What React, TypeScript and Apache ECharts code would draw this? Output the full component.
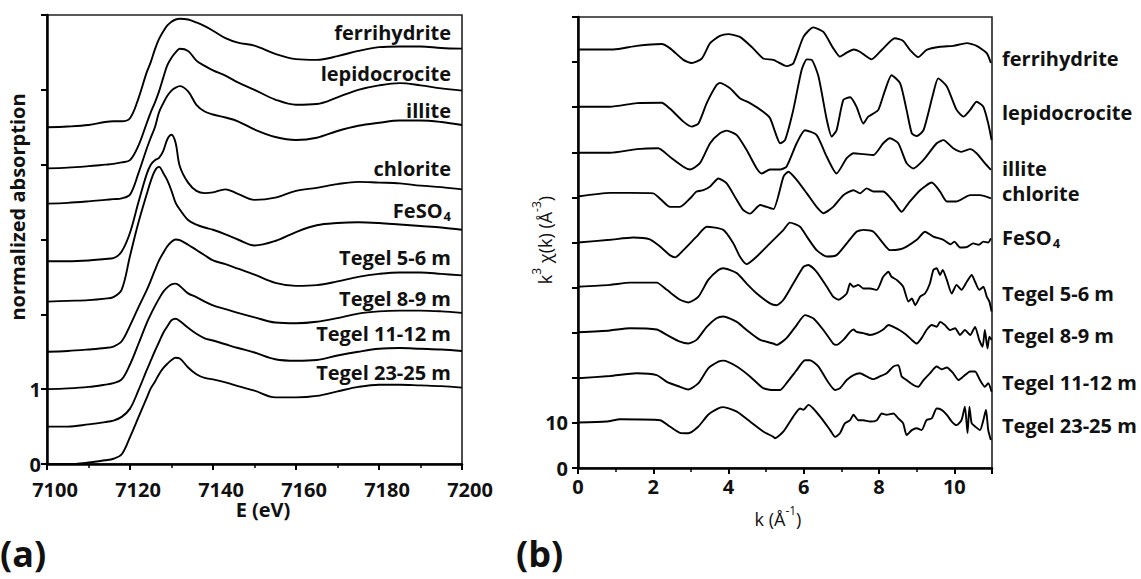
import React, { useEffect, useRef } from "react";
import * as echarts from "echarts";

// ---------- Panel (a): XANES, normalized absorption vs E (eV) ----------
const energyGrid = [7100, 7105, 7110, 7114, 7116, 7118, 7120, 7122, 7124, 7125, 7126, 7127, 7128, 7129, 7130, 7131, 7132, 7134, 7136, 7138, 7140, 7143, 7146, 7150, 7155, 7160, 7165, 7170, 7175, 7180, 7185, 7190, 7195, 7200];

const ferrihydriteA = [4.50, 4.51, 4.53, 4.57, 4.58, 4.58, 4.62, 4.88, 5.23, 5.37, 5.54, 5.68, 5.78, 5.86, 5.91, 5.94, 5.95, 5.94, 5.90, 5.85, 5.79, 5.69, 5.63, 5.59, 5.48, 5.41, 5.40, 5.45, 5.52, 5.57, 5.58, 5.58, 5.56, 5.55];
const lepidocrociteA = [3.95, 3.96, 3.98, 4.00, 4.01, 4.03, 4.06, 4.25, 4.55, 4.70, 4.83, 4.98, 5.16, 5.33, 5.43, 5.50, 5.55, 5.52, 5.39, 5.32, 5.26, 5.19, 5.10, 5.00, 4.87, 4.80, 4.81, 4.90, 5.00, 5.06, 5.09, 5.06, 5.02, 4.99];
const illiteA = [3.48, 3.49, 3.51, 3.53, 3.54, 3.55, 3.60, 3.88, 4.21, 4.36, 4.50, 4.70, 4.82, 4.92, 4.99, 5.03, 5.05, 4.98, 4.80, 4.71, 4.67, 4.63, 4.58, 4.47, 4.37, 4.33, 4.36, 4.45, 4.52, 4.56, 4.59, 4.59, 4.57, 4.53];
const chloriteA = [2.71, 2.71, 2.72, 2.74, 2.75, 2.84, 3.09, 3.49, 3.87, 4.00, 4.06, 4.09, 4.18, 4.34, 4.40, 4.29, 3.98, 3.76, 3.65, 3.62, 3.63, 3.67, 3.61, 3.53, 3.56, 3.65, 3.69, 3.74, 3.77, 3.76, 3.75, 3.72, 3.70, 3.67];
const feso4A = [2.17, 2.18, 2.19, 2.21, 2.23, 2.33, 2.78, 3.22, 3.60, 3.78, 3.92, 3.97, 3.89, 3.79, 3.65, 3.49, 3.40, 3.26, 3.20, 3.16, 3.13, 3.07, 3.00, 2.92, 2.98, 3.10, 3.19, 3.22, 3.23, 3.22, 3.20, 3.18, 3.16, 3.13];
const tegel56A = [1.50, 1.51, 1.53, 1.55, 1.57, 1.64, 1.85, 2.09, 2.32, 2.45, 2.59, 2.72, 2.82, 2.91, 2.97, 3.00, 2.99, 2.93, 2.86, 2.79, 2.72, 2.67, 2.61, 2.53, 2.42, 2.38, 2.39, 2.44, 2.50, 2.54, 2.56, 2.56, 2.54, 2.52];
const tegel89A = [1.00, 1.01, 1.03, 1.06, 1.08, 1.13, 1.33, 1.60, 1.88, 2.00, 2.11, 2.21, 2.30, 2.36, 2.40, 2.41, 2.38, 2.28, 2.23, 2.17, 2.12, 2.07, 2.02, 1.96, 1.89, 1.88, 1.90, 1.95, 2.01, 2.04, 2.05, 2.05, 2.04, 2.02];
const tegel1112A = [0.50, 0.50, 0.53, 0.56, 0.58, 0.63, 0.74, 0.98, 1.25, 1.38, 1.51, 1.63, 1.75, 1.84, 1.92, 1.94, 1.91, 1.82, 1.74, 1.68, 1.65, 1.60, 1.55, 1.49, 1.40, 1.38, 1.39, 1.45, 1.50, 1.54, 1.55, 1.54, 1.53, 1.51];
const tegel2325A = [0.00, 0.00, 0.02, 0.05, 0.07, 0.13, 0.36, 0.62, 0.88, 1.01, 1.10, 1.20, 1.28, 1.34, 1.39, 1.42, 1.41, 1.29, 1.20, 1.15, 1.13, 1.09, 1.04, 0.98, 0.89, 0.89, 0.91, 0.97, 1.03, 1.06, 1.06, 1.05, 1.04, 1.02];

const yLabelsA = [0, 1];

// ---------- Panel (b): EXAFS, k^3 chi(k) vs k ----------
const ferrihydriteB = [[0, 92.8], [0.94, 92.8], [1.56, 93.6], [2.22, 94.0], [2.44, 93.1], [2.80, 90.5], [3.02, 89.8], [3.29, 90.8], [3.51, 94.2], [3.77, 95.8], [3.99, 96.2], [4.30, 95.6], [4.61, 93.4], [4.92, 90.8], [5.19, 90.5], [5.55, 89.1], [5.72, 89.7], [5.99, 95.6], [6.25, 97.7], [6.52, 96.7], [6.78, 93.1], [6.96, 91.2], [7.14, 92.1], [7.32, 92.8], [7.49, 92.3], [7.80, 90.6], [8.07, 92.7], [8.42, 95.3], [8.64, 94.7], [8.82, 92.7], [9.04, 91.1], [9.26, 92.7], [9.62, 93.4], [9.97, 93.6], [10.33, 94.2], [10.59, 93.6], [10.86, 92.0], [10.97, 89.8]];
const lepidocrociteB = [[0, 80.1], [0.85, 80.1], [1.56, 80.9], [2.22, 81.0], [2.44, 79.7], [2.80, 76.8], [3.02, 75.7], [3.20, 76.4], [3.42, 80.9], [3.68, 84.9], [3.77, 85.4], [4.04, 84.2], [4.30, 82.0], [4.57, 80.9], [4.92, 79.0], [5.10, 77.6], [5.28, 73.5], [5.37, 72.0], [5.50, 72.7], [5.72, 79.4], [5.94, 88.2], [6.08, 90.6], [6.21, 90.5], [6.39, 86.8], [6.61, 77.2], [6.74, 73.5], [6.87, 74.9], [7.05, 81.6], [7.23, 82.2], [7.40, 80.1], [7.58, 76.4], [7.71, 77.9], [7.85, 78.6], [7.98, 79.4], [8.16, 83.8], [8.33, 87.1], [8.56, 85.3], [8.73, 79.4], [8.87, 74.2], [9.00, 73.6], [9.18, 74.9], [9.44, 83.1], [9.57, 86.4], [9.80, 84.6], [10.06, 79.4], [10.24, 77.9], [10.42, 79.4], [10.59, 81.2], [10.77, 80.1], [10.90, 76.4], [10.99, 72.7]];
const illiteB = [[0, 69.9], [0.85, 69.9], [1.56, 70.7], [2.13, 70.9], [2.44, 69.0], [2.80, 66.8], [2.98, 66.2], [3.24, 67.6], [3.51, 72.0], [3.77, 74.2], [3.95, 74.8], [4.22, 73.8], [4.48, 70.5], [4.75, 66.4], [4.88, 65.3], [5.10, 66.2], [5.37, 66.2], [5.54, 66.8], [5.81, 72.0], [6.03, 74.9], [6.34, 73.8], [6.61, 69.0], [6.87, 65.3], [7.14, 68.7], [7.32, 69.8], [7.58, 69.6], [7.85, 69.4], [8.11, 72.0], [8.29, 73.1], [8.51, 72.0], [8.73, 67.6], [8.91, 66.4], [9.18, 68.3], [9.53, 72.0], [9.71, 72.7], [9.97, 70.9], [10.19, 70.1], [10.42, 70.7], [10.59, 69.8], [10.81, 67.6], [10.97, 66.1]];
const chloriteB = [[0, 60.2], [0.85, 61.0], [1.38, 61.0], [2.00, 60.9], [2.22, 59.4], [2.44, 57.9], [2.71, 57.9], [2.98, 59.8], [3.15, 61.3], [3.33, 61.6], [3.51, 62.4], [3.73, 64.2], [3.95, 63.1], [4.22, 59.4], [4.39, 57.2], [4.57, 56.4], [4.84, 58.3], [5.01, 57.9], [5.19, 57.4], [5.46, 64.6], [5.59, 65.7], [5.81, 63.9], [6.08, 60.9], [6.34, 57.9], [6.52, 56.5], [6.78, 57.9], [7.05, 60.5], [7.32, 61.6], [7.49, 60.9], [7.67, 62.0], [7.85, 61.3], [8.11, 61.3], [8.38, 59.1], [8.60, 56.8], [8.78, 58.7], [9.09, 61.6], [9.40, 63.3], [9.62, 61.3], [9.80, 59.1], [10.06, 59.1], [10.42, 60.5], [10.68, 60.5], [10.97, 59.8]];
const feso4B = [[0, 50.0], [0.85, 50.6], [1.47, 51.1], [1.91, 50.7], [2.18, 49.1], [2.44, 47.2], [2.58, 46.7], [2.80, 48.3], [3.15, 51.3], [3.42, 53.5], [3.86, 52.8], [4.13, 49.8], [4.30, 46.9], [4.48, 45.2], [4.75, 46.9], [5.10, 49.8], [5.46, 52.8], [5.63, 54.4], [5.90, 53.5], [6.08, 51.3], [6.34, 48.3], [6.61, 46.9], [6.87, 47.2], [7.14, 49.8], [7.40, 52.4], [7.58, 52.8], [7.85, 52.4], [8.11, 49.8], [8.29, 48.3], [8.56, 48.5], [8.73, 49.1], [9.00, 50.6], [9.22, 52.4], [9.44, 51.3], [9.71, 50.6], [9.90, 49.6], [10.00, 50.2], [10.15, 48.9], [10.33, 49.0], [10.50, 49.8], [10.65, 49.5], [10.77, 50.2], [10.90, 50.0], [10.97, 50.9]];
const tegel56B = [[0, 40.2], [0.85, 40.6], [1.38, 41.1], [2.09, 41.1], [2.36, 39.5], [2.71, 37.3], [2.93, 36.7], [3.20, 38.0], [3.46, 41.7], [3.73, 43.9], [3.86, 44.3], [4.22, 43.2], [4.48, 40.9], [4.75, 38.7], [5.10, 36.5], [5.28, 36.1], [5.46, 37.3], [5.72, 40.9], [5.99, 44.6], [6.12, 45.0], [6.34, 43.5], [6.61, 40.2], [6.78, 38.0], [6.92, 37.3], [7.14, 38.7], [7.23, 40.9], [7.32, 40.2], [7.45, 40.6], [7.58, 39.8], [7.76, 39.8], [7.94, 39.5], [8.11, 42.4], [8.25, 43.5], [8.33, 42.4], [8.47, 41.7], [8.64, 40.2], [8.78, 36.9], [8.87, 37.6], [8.96, 36.1], [9.09, 38.0], [9.22, 38.7], [9.35, 40.9], [9.44, 43.9], [9.53, 44.3], [9.62, 42.8], [9.69, 43.9], [9.80, 41.7], [9.93, 38.7], [10.06, 40.6], [10.19, 39.5], [10.33, 41.3], [10.46, 42.8], [10.55, 41.3], [10.66, 39.5], [10.77, 40.2], [10.86, 38.0], [10.93, 36.9], [10.99, 34.7]];
const tegel89B = [[0, 30.1], [0.85, 30.5], [1.38, 31.0], [2.09, 30.7], [2.36, 29.5], [2.71, 28.0], [2.93, 27.6], [3.15, 28.4], [3.42, 31.3], [3.68, 33.2], [3.86, 33.6], [4.22, 32.4], [4.48, 30.6], [4.84, 28.4], [5.19, 27.6], [5.28, 27.3], [5.54, 28.8], [5.81, 31.7], [6.03, 33.9], [6.25, 33.2], [6.52, 30.6], [6.78, 27.6], [6.87, 27.3], [7.05, 28.4], [7.23, 30.2], [7.32, 30.7], [7.40, 30.2], [7.58, 29.9], [7.76, 29.5], [7.94, 29.9], [8.11, 30.7], [8.25, 31.7], [8.38, 31.3], [8.56, 30.5], [8.73, 29.5], [8.87, 28.4], [9.00, 27.6], [9.13, 28.8], [9.26, 30.6], [9.40, 31.7], [9.53, 31.3], [9.62, 32.4], [9.75, 31.7], [9.88, 30.6], [10.02, 31.0], [10.15, 29.5], [10.28, 30.6], [10.42, 29.5], [10.55, 31.3], [10.66, 28.4], [10.75, 26.9], [10.81, 30.6], [10.88, 26.5], [10.93, 29.1], [10.99, 28.4]];
const tegel1112B = [[0, 19.9], [0.85, 20.4], [1.56, 21.0], [2.09, 20.6], [2.36, 19.1], [2.71, 18.0], [2.93, 17.4], [3.20, 18.8], [3.46, 22.1], [3.73, 23.6], [3.86, 23.8], [4.22, 22.5], [4.57, 20.3], [4.92, 17.7], [5.19, 17.3], [5.37, 17.3], [5.54, 18.8], [5.81, 21.7], [6.03, 23.9], [6.16, 23.9], [6.39, 22.5], [6.61, 19.5], [6.83, 17.3], [6.96, 17.7], [7.14, 19.5], [7.32, 20.6], [7.49, 21.0], [7.67, 20.3], [7.85, 19.7], [8.02, 20.3], [8.20, 21.0], [8.38, 22.5], [8.51, 22.8], [8.60, 20.3], [8.73, 19.5], [8.91, 18.4], [9.04, 18.0], [9.18, 19.5], [9.35, 21.0], [9.53, 22.5], [9.66, 21.9], [9.80, 22.3], [9.97, 21.0], [10.11, 19.5], [10.24, 20.3], [10.42, 21.4], [10.55, 21.4], [10.68, 19.5], [10.81, 18.0], [10.90, 18.8], [10.99, 16.9]];
const tegel2325B = [[0, 10.1], [0.76, 10.3], [1.12, 10.8], [2.18, 10.6], [2.44, 9.2], [2.71, 7.8], [2.93, 7.7], [3.20, 9.2], [3.46, 11.8], [3.73, 13.2], [3.86, 13.5], [4.22, 12.5], [4.57, 10.3], [4.92, 8.1], [5.19, 6.9], [5.23, 6.6], [5.46, 8.1], [5.72, 11.4], [5.90, 13.2], [5.99, 12.9], [6.12, 14.0], [6.25, 13.2], [6.47, 11.0], [6.70, 8.4], [6.83, 6.9], [6.96, 7.7], [7.09, 9.9], [7.23, 10.6], [7.32, 11.8], [7.45, 10.6], [7.58, 10.6], [7.76, 10.3], [7.94, 10.6], [8.07, 12.1], [8.20, 11.8], [8.38, 12.1], [8.51, 11.0], [8.64, 9.9], [8.73, 7.3], [8.87, 8.4], [9.00, 8.8], [9.13, 8.4], [9.26, 10.6], [9.40, 11.0], [9.53, 13.2], [9.66, 12.9], [9.80, 11.8], [9.93, 10.3], [10.06, 9.5], [10.19, 10.6], [10.28, 13.6], [10.35, 7.7], [10.40, 13.6], [10.46, 9.9], [10.55, 9.2], [10.68, 8.4], [10.77, 10.6], [10.84, 12.9], [10.90, 8.4], [10.97, 6.2]];

const xLabelsB = [0, 2, 4, 6, 8, 10];
const yLabelsB = [0, 10];

const sampleNames = ["ferrihydrite", "lepidocrocite", "illite", "chlorite", "FeSO4", "Tegel 5-6 m", "Tegel 8-9 m", "Tegel 11-12 m", "Tegel 23-25 m"];

const seriesA = [ferrihydriteA, lepidocrociteA, illiteA, chloriteA, feso4A, tegel56A, tegel89A, tegel1112A, tegel2325A];
const seriesB = [ferrihydriteB, lepidocrociteB, illiteB, chloriteB, feso4B, tegel56B, tegel89B, tegel1112B, tegel2325B];

const FONT = "'Open Sans', 'Noto Sans', sans-serif";
const INK = "#111";

// label pixel positions (layout only)
const labelYA = [32, 73, 110, 168, 210, 257, 298, 333, 372];
const labelYB = [58, 112, 168, 193, 237, 293, 335, 382, 425];

function labelText(name: string, x: number, y: number, align: string, size: number) {
  if (name === "FeSO4") {
    return {
      type: "text",
      x,
      y,
      style: {
        text: "{m|FeSO}{s|4}",
        align,
        verticalAlign: "middle",
        fill: INK,
        rich: {
          m: { fontFamily: FONT, fontSize: size, fontWeight: "bold", fill: INK, lineHeight: 24, verticalAlign: "middle" },
          s: { fontFamily: FONT, fontSize: Math.round(size * 0.65), fontWeight: "bold", fill: INK, lineHeight: 24, verticalAlign: "bottom", padding: [0, 0, 0, 1] },
        },
      },
    };
  }
  return {
    type: "text",
    x,
    y,
    style: { text: name, align, verticalAlign: "middle", fill: INK, fontFamily: FONT, fontSize: size, fontWeight: "bold" },
  };
}

export default function App() {
  const ref = useRef<HTMLDivElement>(null);
  useEffect(() => {
    if (!ref.current) return;
    const chart = echarts.init(ref.current, undefined, { renderer: "svg" });

    const axisCommon = {
      type: "value",
      splitLine: { show: false },
      axisLine: { show: true, onZero: false, lineStyle: { color: "#000", width: 2.5 } },
      axisTick: { show: true, inside: false, length: 6, lineStyle: { color: "#000", width: 2 } },
      axisLabel: { fontFamily: FONT, fontSize: 20, fontWeight: "bold", color: INK },
    };

    const series: any[] = [];
    seriesA.forEach((vals, i) => {
      series.push({
        type: "line",
        name: sampleNames[i] + " (a)",
        xAxisIndex: 0,
        yAxisIndex: 0,
        data: energyGrid.map((e, j) => [e, vals[j]]),
        showSymbol: false,
        smooth: 0.35,
        lineStyle: { color: "#000", width: 1.9 },
        silent: true,
      });
    });
    seriesB.forEach((vals, i) => {
      series.push({
        type: "line",
        name: sampleNames[i] + " (b)",
        xAxisIndex: 1,
        yAxisIndex: 1,
        data: vals,
        showSymbol: false,
        smooth: 0.2,
        lineStyle: { color: "#000", width: 1.9 },
        silent: true,
      });
    });

    const graphics: any[] = [];
    sampleNames.forEach((n, i) => {
      graphics.push(labelText(n, 451, labelYA[i], "right", 20));
      graphics.push(labelText(n, 1002, labelYB[i], "left", 20));
    });
    graphics.push({
      type: "text", x: 17, y: 207, rotation: Math.PI / 2,
      style: { text: "normalized absorption", align: "center", verticalAlign: "middle", fill: INK, fontFamily: FONT, fontSize: 20, fontWeight: "bold" },
    });
    graphics.push({
      type: "text", x: 263, y: 509,
      style: { text: "E (eV)", align: "center", verticalAlign: "middle", fill: INK, fontFamily: FONT, fontSize: 20, fontWeight: "bold" },
    });
    graphics.push({
      type: "text", x: 778, y: 516,
      style: {
        text: "{r|k (Å}{p|-1}{r|)}", align: "center", verticalAlign: "middle", fill: INK,
        fontFamily: FONT, fontSize: 18,
        rich: {
          r: { fontFamily: FONT, fontSize: 18, fill: INK, lineHeight: 24, verticalAlign: "bottom" },
          p: { fontFamily: FONT, fontSize: 12, fill: INK, lineHeight: 24, verticalAlign: "top" },
        },
      },
    });
    graphics.push({
      type: "text", x: 542, y: 240, rotation: Math.PI / 2,
      style: {
        text: "{r|k}{p|3}{r| χ(k) (Å}{p|-3}{r|)}", align: "center", verticalAlign: "middle", fill: INK,
        fontFamily: FONT, fontSize: 18,
        rich: {
          r: { fontFamily: FONT, fontSize: 18, fill: INK, lineHeight: 24, verticalAlign: "bottom" },
          p: { fontFamily: FONT, fontSize: 12, fill: INK, lineHeight: 24, verticalAlign: "top" },
        },
      },
    });
    graphics.push({
      type: "text", x: 0, y: 553,
      style: { text: "(a)", align: "left", verticalAlign: "middle", fill: INK, fontFamily: FONT, fontSize: 36, fontWeight: "bold" },
    });
    graphics.push({
      type: "text", x: 516, y: 553,
      style: { text: "(b)", align: "left", verticalAlign: "middle", fill: INK, fontFamily: FONT, fontSize: 36, fontWeight: "bold" },
    });

    chart.setOption({
      animation: false,
      backgroundColor: "#fff",
      grid: [
        { left: 47, top: 15, width: 415, height: 449, show: true, borderColor: "#222", borderWidth: 1.6, backgroundColor: "transparent" },
        { left: 578, top: 17, width: 414, height: 451, show: true, borderColor: "#222", borderWidth: 1.6, backgroundColor: "transparent" },
      ],
      xAxis: [
        {
          ...axisCommon, gridIndex: 0, min: 7100, max: 7200, interval: 20,
          minorTick: { show: true, splitNumber: 2, length: 4, lineStyle: { color: "#000", width: 1.5 } },
          axisLabel: {
            ...axisCommon.axisLabel, margin: 15,
            formatter: (v: number) => "{v|" + String(v) + "}",
            rich: { v: { fontFamily: FONT, fontSize: 20, fontWeight: "bold", color: INK, lineHeight: 20, padding: [0, 0, 0, 16] } },
          },
        },
        {
          ...axisCommon, gridIndex: 1, min: 0, max: 11, interval: 2,
          minorTick: { show: true, splitNumber: 2, length: 4, lineStyle: { color: "#000", width: 1.5 } },
          axisLabel: { ...axisCommon.axisLabel, margin: 8, formatter: (v: number) => (xLabelsB.includes(v) ? String(v) : "") },
        },
      ],
      yAxis: [
        {
          ...axisCommon, gridIndex: 0, min: 0, max: 6, interval: 1,
          axisLabel: { ...axisCommon.axisLabel, margin: 6, lineHeight: 14, formatter: (v: number) => (yLabelsA.includes(v) ? String(v) : "") },
        },
        {
          ...axisCommon, gridIndex: 1, min: 0, max: 100, interval: 10,
          axisLabel: { ...axisCommon.axisLabel, margin: 10, formatter: (v: number) => (yLabelsB.includes(v) ? String(v) : "") },
        },
      ],
      series,
      graphic: graphics,
    });

    return () => chart.dispose();
  }, []);

  return <div ref={ref} style={{ position: "fixed", left: 0, top: 0, width: 1141, height: 579, background: "#fff" }} />;
}
